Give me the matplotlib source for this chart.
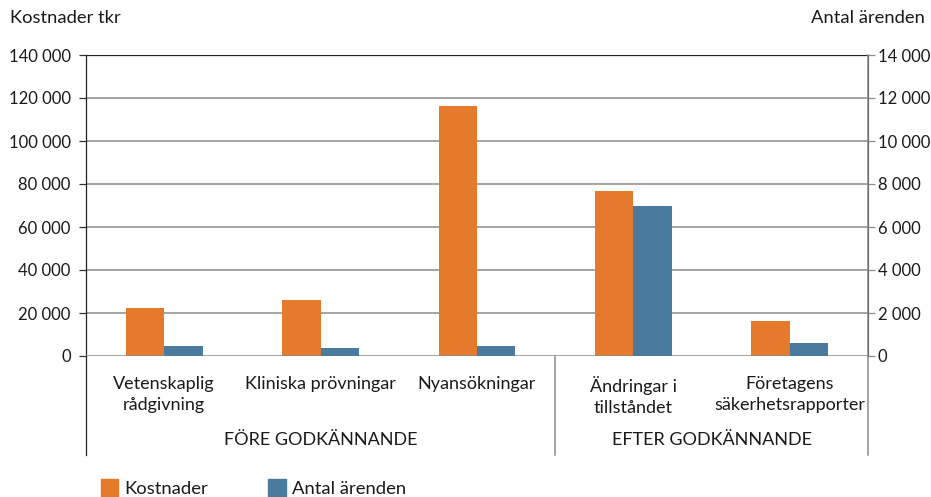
import matplotlib
matplotlib.use("Agg")
import matplotlib.pyplot as plt
import numpy as np
from matplotlib.lines import Line2D
from matplotlib.patches import Patch

plt.rcParams['font.family'] = ['Lato', 'DejaVu Sans']

categories = ["Vetenskaplig\nrådgivning", "Kliniska prövningar", "Nyansökningar",
              "Ändringar i\ntillståndet", "Företagens\nsäkerhetsrapporter"]
groups = ["FÖRE GODKÄNNANDE", "EFTER GODKÄNNANDE"]
group_sizes = [3, 2]
kostnader = [22500, 25900, 116400, 76600, 16300]
antal = [460, 370, 460, 6980, 600]
left_ticks = [0, 20000, 40000, 60000, 80000, 100000, 120000, 140000]
right_ticks = [0, 2000, 4000, 6000, 8000, 10000, 12000, 14000]

ORANGE = "#E5792C"
BLUE = "#4A7A9E"
GRID = "#8C8C8C"
TXT = "#1a1a1a"

def fmt(v):
    return f"{v:,}".replace(",", " ")

W, H = 931, 497
fig = plt.figure(figsize=(W / 100, H / 100), dpi=100)
x0, x1, yb, yt = 86, 868, 356, 55
ax = fig.add_axes([x0 / W, 1 - yb / H, (x1 - x0) / W, (yb - yt) / H])
ax2 = ax.twinx()

x = np.arange(len(categories))
bw = 0.245
ax.bar(x - bw / 2, kostnader, width=bw, color=ORANGE, zorder=3)
ax2.bar(x + bw / 2, antal, width=bw, color=BLUE, zorder=3)

ax.set_xlim(-0.5, len(categories) - 0.5)
ax.set_ylim(0, 140000)
ax2.set_ylim(0, 14000)
ax.set_yticks(left_ticks)
ax.set_yticklabels([fmt(v) for v in left_ticks])
ax2.set_yticks(right_ticks)
ax2.set_yticklabels([fmt(v) for v in right_ticks])

for v in left_ticks[1:-1]:
    ax.axhline(v, color=GRID, lw=1.1, zorder=1)
ax.axhline(0, color=GRID, lw=1.1, zorder=4)

ax.tick_params(axis='y', length=5, width=0.9, color="#333333", labelsize=12, pad=6, colors=TXT)
ax2.tick_params(axis='y', length=5, width=0.9, color=GRID, labelsize=12, pad=2, colors=TXT)
ax.tick_params(axis='x', length=0, labelbottom=False)

for a in (ax, ax2):
    a.spines['bottom'].set_visible(False)
    a.spines['top'].set_visible(False)
ax.spines['left'].set_color("#222222")
ax.spines['left'].set_linewidth(0.9)
ax2.spines['left'].set_visible(False)
ax2.spines['right'].set_color(GRID)
ax2.spines['right'].set_linewidth(1.1)
ax.axhline(140000, color="#222222", lw=0.9, zorder=1)

# hierarchical axis lines
low = (yb - 455) / (yb - yt)
bounds = [-0.5]
for s in group_sizes:
    bounds.append(bounds[-1] + s)
for b in bounds:
    first = b == bounds[0]
    ax.add_line(Line2D([b, b], [low, 0], transform=ax.get_xaxis_transform(),
                       color="#222222" if first else GRID, lw=0.9 if first else 1.1,
                       clip_on=False))

trans = ax.get_xaxis_transform()
cat_y = (yb - 376) / (yb - yt)
for xi, c in zip(x, categories):
    ax.text(xi, cat_y, c, transform=trans, ha='center', va='top', fontsize=13,
            color=TXT, linespacing=1.4)

grp_y = (yb - 440) / (yb - yt)
for i, g in enumerate(groups):
    cx = (bounds[i] + bounds[i + 1]) / 2
    ax.text(cx, grp_y, g, transform=trans, ha='center', va='center', fontsize=13,
            color=TXT)

fig.text(10 / W, 1 - 18 / H, "Kostnader tkr", ha='left', va='center', fontsize=13.2, color=TXT)
fig.text(925 / W, 1 - 18 / H, "Antal ärenden", ha='right', va='center', fontsize=13.2, color=TXT)

handles = [Patch(color=ORANGE, label="Kostnader"), Patch(color=BLUE, label="Antal ärenden")]
fig.legend(handles=handles, loc='center left', bbox_to_anchor=(97 / W, 1 - 488 / H), ncol=2,
           frameon=False, fontsize=13.3, handlelength=0.95, handleheight=1.15, handletextpad=0.3,
           columnspacing=3.3, borderaxespad=0, borderpad=0.2, labelcolor=TXT)

fig.savefig("out.png", dpi=100)
